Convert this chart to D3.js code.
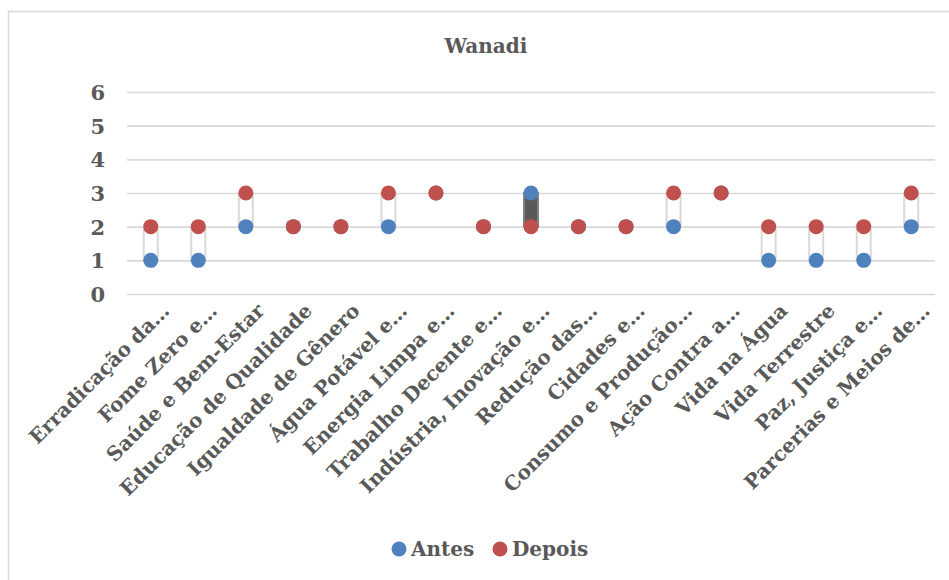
<!DOCTYPE html>
<html>
<head>
<meta charset="utf-8">
<script src="https://cdn.jsdelivr.net/npm/d3@7"></script>
<style>
  html, body { margin: 0; padding: 0; background: #ffffff; }
  svg { display: block; }
  text { font-family: "DejaVu Serif", "Liberation Serif", serif; font-weight: bold; fill: #595959; }
</style>
</head>
<body>
<svg id="chart" width="949" height="580"></svg>
<script>
// Objetivos (rótulos abreviados como no eixo)
const categories = [
  "Erradicação da…", "Fome Zero e…", "Saúde e Bem-Estar", "Educação de Qualidade",
  "Igualdade de Gênero", "Água Potável e…", "Energia Limpa e…", "Trabalho Decente e…",
  "Indústria, Inovação e…", "Redução das…", "Cidades e…", "Consumo e Produção…",
  "Ação Contra a…", "Vida na Água", "Vida Terrestre", "Paz, Justiça e…", "Parcerias e Meios de…"
];
const antes  = [1, 1, 2, 2, 2, 2, 3, 2, 3, 2, 2, 2, 3, 1, 1, 1, 2];
const depois = [2, 2, 3, 2, 2, 3, 3, 2, 2, 2, 2, 3, 3, 2, 2, 2, 3];
const yTicks = [0, 1, 2, 3, 4, 5, 6];
const seriesNames = ["Antes", "Depois"];
const seriesColors = ["#4F81BD", "#C0504D"];
const title = "Wanadi";

const svg = d3.select("#chart");

// chart area frame
svg.append("rect")
  .attr("x", 8.5).attr("y", 11.5)
  .attr("width", 980).attr("height", 620)
  .attr("fill", "#ffffff")
  .attr("stroke", "#d9d9d9").attr("stroke-width", 1.5);

const plot = { left: 127, right: 935, top: 92, bottom: 294 };

const x = d3.scaleBand()
  .domain(categories)
  .range([plot.left, plot.right])
  .paddingInner(0).paddingOuter(0);

const y = d3.scaleLinear()
  .domain([0, 6])
  .range([plot.bottom, plot.top]);

// title
svg.append("text")
  .attr("x", 486).attr("y", 53)
  .attr("text-anchor", "middle")
  .attr("font-size", 20)
  .text(title);

// gridlines + y labels
const yAxis = d3.axisLeft(y)
  .tickValues(yTicks)
  .tickSize(-(plot.right - plot.left))
  .tickPadding(22)
  .tickFormat(d3.format("d"));

const gy = svg.append("g")
  .attr("transform", `translate(${plot.left},0)`)
  .call(yAxis);
gy.select(".domain").remove();
gy.selectAll(".tick line").attr("stroke", "#d9d9d9").attr("stroke-width", 1.6);
gy.selectAll(".tick text")
  .attr("font-size", 21)
  .attr("font-family", "DejaVu Serif, serif")
  .attr("font-weight", "bold")
  .attr("fill", "#595959")
  .attr("dy", "0.36em");

// category labels (rotated -45°)
const xAxis = d3.axisBottom(x).tickSize(0).tickPadding(0);
const gx = svg.append("g")
  .attr("transform", `translate(0,${plot.bottom})`)
  .call(xAxis);
gx.select(".domain").remove();
gx.selectAll(".tick text")
  .attr("font-size", 20)
  .attr("font-family", "DejaVu Serif, serif")
  .attr("font-weight", "bold")
  .attr("fill", "#595959")
  .attr("text-anchor", "end")
  .attr("dy", null)
  .attr("y", 0)
  .attr("transform", "translate(20,18) rotate(-45)");

// up/down bars between Antes and Depois
const barW = 14;
const rows = categories.map((c, i) => ({ c, a: antes[i], d: depois[i] }));
svg.append("g").selectAll("rect")
  .data(rows.filter(r => r.a !== r.d))
  .join("rect")
  .attr("x", r => x(r.c) + x.bandwidth() / 2 - barW / 2)
  .attr("y", r => y(Math.max(r.a, r.d)))
  .attr("width", barW)
  .attr("height", r => Math.abs(y(r.a) - y(r.d)))
  .attr("fill", r => r.d > r.a ? "#ffffff" : "#595959")
  .attr("stroke", r => r.d > r.a ? "#d9d9d9" : "#7f7f7f")
  .attr("stroke-width", 2);

// markers
[antes, depois].forEach((vals, s) => {
  svg.append("g").selectAll("circle")
    .data(vals)
    .join("circle")
    .attr("cx", (v, i) => x(categories[i]) + x.bandwidth() / 2)
    .attr("cy", v => y(v))
    .attr("r", 7.5)
    .attr("fill", seriesColors[s]);
});

// legend
const legendX = [399, 500];
const lg = svg.append("g");
seriesNames.forEach((name, i) => {
  lg.append("circle")
    .attr("cx", legendX[i]).attr("cy", 549).attr("r", 7.5)
    .attr("fill", seriesColors[i]);
  lg.append("text")
    .attr("x", legendX[i] + 12).attr("y", 556)
    .attr("font-size", 20)
    .text(name);
});
</script>
</body>
</html>
